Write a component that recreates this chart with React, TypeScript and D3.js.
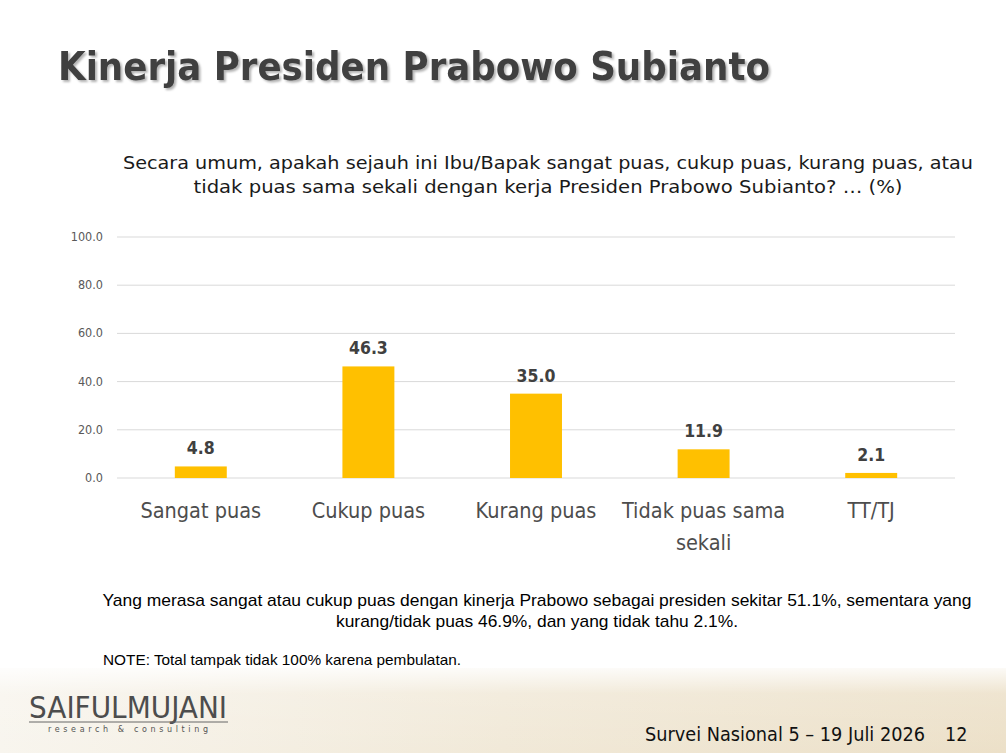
import React, { useEffect, useRef } from "react";
import * as d3 from "d3";

// chart data
const categories = ["Sangat puas", "Cukup puas", "Kurang puas", "Tidak puas sama sekali", "TT/TJ"];
const categoryLines = [["Sangat puas"], ["Cukup puas"], ["Kurang puas"], ["Tidak puas sama", "sekali"], ["TT/TJ"]];
const values = [4.8, 46.3, 35.0, 11.9, 2.1];
const yTicks = [0, 20, 40, 60, 80, 100];

const title = "Kinerja Presiden Prabowo Subianto";
const question = [
  "Secara umum, apakah sejauh ini Ibu/Bapak sangat puas, cukup puas, kurang puas, atau",
  "tidak puas sama sekali dengan kerja Presiden Prabowo Subianto? … (%)",
];
const summary = [
  "Yang merasa sangat atau cukup puas dengan kinerja Prabowo sebagai presiden sekitar 51.1%, sementara yang",
  "kurang/tidak puas 46.9%, dan yang tidak tahu 2.1%.",
];
const note = "NOTE: Total tampak tidak 100% karena pembulatan.";
const footer = "Survei Nasional 5 – 19 Juli 2026";
const pageNo = "12";

const W = 1006;
const H = 753;

export default function App() {
  const ref = useRef<SVGSVGElement>(null);

  useEffect(() => {
    const svg = d3.select(ref.current);
    svg.selectAll("*").remove();

    const defs = svg.append("defs");
    const grad = defs.append("linearGradient").attr("id", "bg").attr("x1", "0").attr("x2", "1").attr("y1", "0").attr("y2", "0");
    grad.append("stop").attr("offset", "0").attr("stop-color", "#f8f5ee");
    grad.append("stop").attr("offset", "0.5").attr("stop-color", "#f1e9d8");
    grad.append("stop").attr("offset", "1").attr("stop-color", "#ece0c8");
    const gradV = defs.append("linearGradient").attr("id", "bgfade").attr("x1", "0").attr("x2", "0").attr("y1", "0").attr("y2", "1");
    gradV.append("stop").attr("offset", "0").attr("stop-color", "#ffffff").attr("stop-opacity", 0.85);
    gradV.append("stop").attr("offset", "0.3").attr("stop-color", "#ffffff").attr("stop-opacity", 0.15);
    gradV.append("stop").attr("offset", "1").attr("stop-color", "#ffffff").attr("stop-opacity", 0);
    const shadow = defs.append("filter").attr("id", "shadow").attr("x", "-5%").attr("y", "-20%").attr("width", "110%").attr("height", "150%");
    shadow.append("feDropShadow").attr("dx", 2).attr("dy", 2).attr("stdDeviation", 1.2).attr("flood-color", "#000").attr("flood-opacity", 0.3);

    svg.append("rect").attr("width", W).attr("height", H).attr("fill", "#fff");
    // bottom band
    svg.append("rect").attr("x", 0).attr("y", 668).attr("width", W).attr("height", H - 668).attr("fill", "url(#bg)");
    svg.append("rect").attr("x", 0).attr("y", 668).attr("width", W).attr("height", H - 668).attr("fill", "url(#bgfade)");

    // title
    svg.append("text")
      .attr("x", 58).attr("y", 80)
      .attr("font-family", "DejaVu Sans Condensed")
      .attr("font-weight", "bold")
      .attr("font-size", 39)
      .attr("fill", "#404040")
      .attr("filter", "url(#shadow)")
      .attr("textLength", 712)
      .attr("lengthAdjust", "spacingAndGlyphs")
      .text(title);

    // question
    const qLen = [850, 709];
    svg.append("g").selectAll("text").data(question).join("text")
      .attr("x", 548).attr("y", (d, i) => 169 + i * 24)
      .attr("text-anchor", "middle")
      .attr("font-family", "DejaVu Sans")
      .attr("font-size", 18)
      .attr("fill", "#1a1a1a")
      .attr("textLength", (d, i) => qLen[i])
      .attr("lengthAdjust", "spacingAndGlyphs")
      .text(d => d);

    // chart
    const x = d3.scaleBand().domain(categories).range([117, 955]).paddingInner(0.69).paddingOuter(0.345);
    const y = d3.scaleLinear().domain([0, 100]).range([478, 237]);

    const grid = svg.append("g");
    grid.selectAll("line").data(yTicks).join("line")
      .attr("x1", 117).attr("x2", 955)
      .attr("y1", d => y(d)).attr("y2", d => y(d))
      .attr("stroke", "#d9d9d9").attr("stroke-width", 1);
    grid.selectAll("text").data(yTicks).join("text")
      .attr("x", 103).attr("y", d => y(d) + 4)
      .attr("text-anchor", "end")
      .attr("font-family", "DejaVu Sans Condensed")
      .attr("font-size", 12.5)
      .attr("fill", "#595959")
      .text(d => d3.format(".1f")(d));

    svg.append("g").selectAll("rect").data(values).join("rect")
      .attr("x", (d, i) => x(categories[i])!)
      .attr("width", x.bandwidth())
      .attr("y", d => y(d))
      .attr("height", d => y(0) - y(d))
      .attr("fill", "#ffc000");

    svg.append("g").selectAll("text").data(values).join("text")
      .attr("x", (d, i) => x(categories[i])! + x.bandwidth() / 2)
      .attr("y", d => y(d) - 12)
      .attr("text-anchor", "middle")
      .attr("font-family", "DejaVu Sans Condensed")
      .attr("font-weight", "bold")
      .attr("font-size", 17.5)
      .attr("fill", "#404040")
      .text(d => d3.format(".1f")(d));

    const cat = svg.append("g").selectAll("text").data(categoryLines).join("text")
      .attr("text-anchor", "middle")
      .attr("font-family", "DejaVu Sans Condensed")
      .attr("font-size", 21.5)
      .attr("fill", "#4d4d4d");
    cat.each(function (lines, i) {
      const cx = x(categories[i])! + x.bandwidth() / 2;
      d3.select(this).selectAll("tspan").data(lines).join("tspan")
        .attr("x", cx)
        .attr("y", (d, j) => 518 + j * 32)
        .text(d => d);
    });

    // summary
    const sLen = [869, 402];
    svg.append("g").selectAll("text").data(summary).join("text")
      .attr("x", 537).attr("y", (d, i) => 606 + i * 21)
      .attr("text-anchor", "middle")
      .attr("font-family", "Liberation Sans Narrow, Liberation Sans")
      .attr("font-size", 17)
      .attr("fill", "#000")
      .attr("textLength", (d, i) => sLen[i])
      .attr("lengthAdjust", "spacingAndGlyphs")
      .text(d => d);

    svg.append("text")
      .attr("x", 103).attr("y", 665)
      .attr("font-family", "Liberation Sans Narrow, Liberation Sans")
      .attr("font-size", 15)
      .attr("fill", "#000")
      .attr("textLength", 358)
      .attr("lengthAdjust", "spacingAndGlyphs")
      .text(note);

    // logo
    svg.append("text")
      .attr("x", 29).attr("y", 718)
      .attr("font-family", "DejaVu Sans Condensed")
      .attr("font-weight", 200)
      .attr("font-size", 30)
      .attr("fill", "#4d4d4d")
      .attr("textLength", 198)
      .attr("lengthAdjust", "spacingAndGlyphs")
      .text("SAIFULMUJANI");
    svg.append("line").attr("x1", 29).attr("x2", 228).attr("y1", 722).attr("y2", 722).attr("stroke", "#666").attr("stroke-width", 1);
    svg.append("text")
      .attr("x", 48).attr("y", 732)
      .attr("font-family", "DejaVu Sans")
      .attr("font-size", 8)
      .attr("fill", "#555")
      .attr("textLength", 160)
      .text("research & consulting");

    svg.append("text")
      .attr("x", 645).attr("y", 741)
      .attr("font-family", "DejaVu Sans Condensed")
      .attr("font-size", 19.5)
      .attr("fill", "#111")
      .attr("textLength", 280)
      .attr("lengthAdjust", "spacingAndGlyphs")
      .text(footer);
    svg.append("text")
      .attr("x", 945).attr("y", 741)
      .attr("font-family", "DejaVu Sans Condensed")
      .attr("font-size", 19.5)
      .attr("fill", "#111")
      .text(pageNo);
  }, []);

  return (
    <svg ref={ref} width={W} height={H} style={{ position: "absolute", left: 0, top: 0 }} />
  );
}
